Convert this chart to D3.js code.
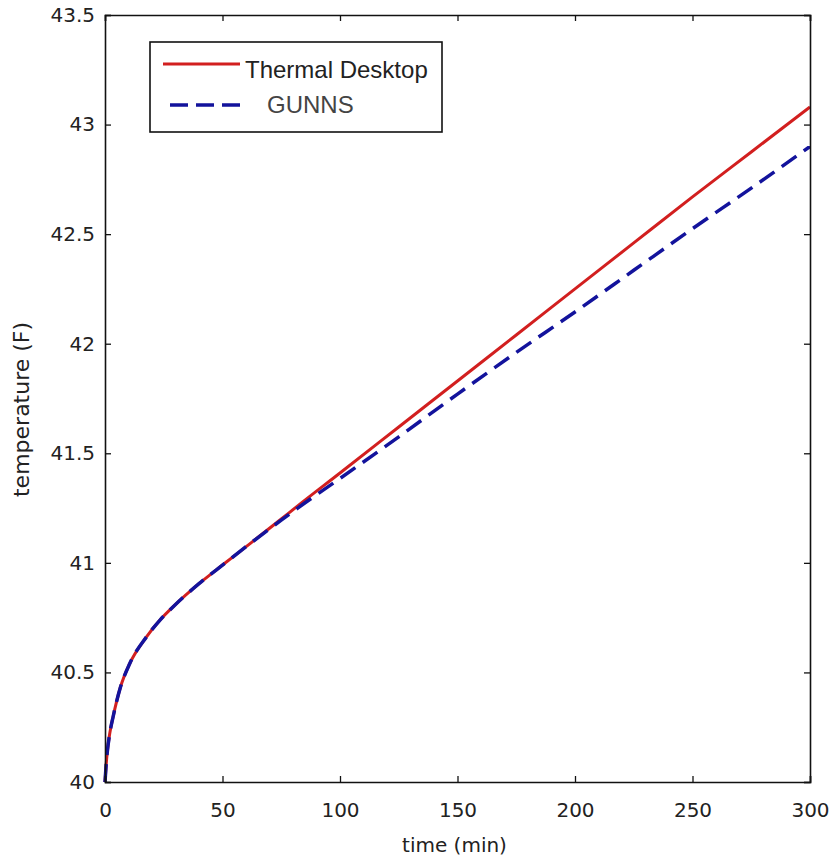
<!DOCTYPE html>
<html>
<head>
<meta charset="utf-8">
<script src="https://cdn.jsdelivr.net/npm/d3@7"></script>
<style>
  body { margin: 0; background: #fff; }
  svg text { font-family: "Liberation Sans", Arial, sans-serif; }
</style>
</head>
<body>
<div class="container"></div>
<script>
// data
var timeMin = [0, 0.5, 1, 2, 3.5, 6.5, 10.5, 17.5, 23.5, 30, 40, 50, 62, 75, 82, 100, 125, 150, 175, 200, 225, 250, 275, 300];
var thermalDesktop = [40.0, 40.08, 40.14, 40.22, 40.30, 40.43, 40.54, 40.66, 40.74, 40.81, 40.905, 40.99, 41.09, 41.20, 41.26, 41.41, 41.62, 41.83, 42.04, 42.25, 42.46, 42.67, 42.875, 43.08];
var gunns = [40.0, 40.08, 40.14, 40.22, 40.30, 40.43, 40.54, 40.66, 40.74, 40.81, 40.905, 40.99, 41.09, 41.195, 41.25, 41.385, 41.575, 41.77, 41.96, 42.145, 42.335, 42.525, 42.71, 42.90];
var xTicks = [0, 50, 100, 150, 200, 250, 300];
var yTicks = [40, 40.5, 41, 41.5, 42, 42.5, 43, 43.5];
var seriesNames = ['Thermal Desktop', 'GUNNS'];

var chart = {
  width: 837,
  height: 861,
  left: 105,
  right: 810,
  top: 15,
  bottom: 782
};

var svg = d3.select('.container').append('svg')
  .attr('width', chart.width)
  .attr('height', chart.height);

var x = d3.scaleLinear().domain([0, 300]).range([chart.left, chart.right]);
var y = d3.scaleLinear().domain([40, 43.5]).range([chart.bottom, chart.top]);

// lines
var line = d3.line()
  .x(function(d){ return x(d[0]); })
  .y(function(d){ return y(d[1]); })
  .curve(d3.curveMonotoneX);

var redData = timeMin.map(function(t, i){ return [t, thermalDesktop[i]]; });
var blueData = timeMin.map(function(t, i){ return [t, gunns[i]]; });

var plot = svg.append('g');
plot.append('path')
  .datum(redData)
  .attr('d', line)
  .attr('fill', 'none')
  .attr('stroke', '#d21f1f')
  .attr('stroke-width', 3);
plot.append('path')
  .datum(blueData)
  .attr('d', line)
  .attr('fill', 'none')
  .attr('stroke', '#13139c')
  .attr('stroke-width', 3.5)
  .attr('stroke-dasharray', '18,9');

// axes - matlab style, ticks inward on all four sides
var tickLen = 6;
var xAxis = d3.axisBottom(x).tickValues(xTicks).tickSize(-tickLen)
  .tickFormat(d3.format('d'));
var yAxis = d3.axisLeft(y).tickValues(yTicks).tickSize(-tickLen).tickPadding(10)
  .tickFormat(function(d){ return d % 1 === 0 ? d3.format('d')(d) : d3.format('.1f')(d); });

var gx = svg.append('g').attr('transform', 'translate(0,' + chart.bottom + ')').call(xAxis);
var gy = svg.append('g').attr('transform', 'translate(' + chart.left + ',0)').call(yAxis);
var gxTop = svg.append('g').attr('transform', 'translate(0,' + chart.top + ')')
  .call(d3.axisTop(x).tickValues(xTicks).tickSize(-tickLen).tickFormat(''));
var gyRight = svg.append('g').attr('transform', 'translate(' + chart.right + ',0)')
  .call(d3.axisRight(y).tickValues(yTicks).tickSize(-tickLen).tickFormat(''));

[gx, gy, gxTop, gyRight].forEach(function(g){
  g.select('.domain').attr('stroke', '#111').attr('stroke-width', 1.6);
  g.selectAll('.tick line').attr('stroke', '#111').attr('stroke-width', 1.3);
  g.selectAll('.tick text')
    .attr('fill', '#222')
    .style('font-size', '20px')
    .style('font-family', '"DejaVu Sans", sans-serif');
});
gx.selectAll('.tick text').attr('y', 35).attr('dy', 0);

// axis labels
svg.append('text')
  .attr('x', x(150) - 3)
  .attr('y', 852)
  .attr('text-anchor', 'middle')
  .attr('fill', '#222')
  .style('font-size', '20px')
  .style('font-family', '"DejaVu Sans", sans-serif')
  .text('time (min)');
svg.append('text')
  .attr('transform', 'translate(29,' + y(41.7) + ') rotate(-90)')
  .attr('text-anchor', 'middle')
  .attr('fill', '#222')
  .style('font-size', '22px')
  .style('font-family', '"DejaVu Sans", sans-serif')
  .text('temperature (F)');

// legend
var legend = svg.append('g');
legend.append('rect')
  .attr('x', 150).attr('y', 42)
  .attr('width', 292).attr('height', 90)
  .attr('fill', '#fff')
  .attr('stroke', '#111')
  .attr('stroke-width', 1.6);
legend.append('line')
  .attr('x1', 163).attr('x2', 240).attr('y1', 64).attr('y2', 64)
  .attr('stroke', '#d21f1f').attr('stroke-width', 3);
legend.append('line')
  .attr('x1', 170).attr('x2', 240).attr('y1', 105).attr('y2', 105)
  .attr('stroke', '#13139c').attr('stroke-width', 3.5)
  .attr('stroke-dasharray', '18,8');
legend.append('text')
  .attr('x', 245).attr('y', 78)
  .attr('fill', '#222')
  .style('font-size', '24px')
  .text(seriesNames[0]);
legend.append('text')
  .attr('x', 267).attr('y', 113)
  .attr('fill', '#444')
  .style('font-size', '24px')
  .text(seriesNames[1]);
</script>
</body>
</html>
